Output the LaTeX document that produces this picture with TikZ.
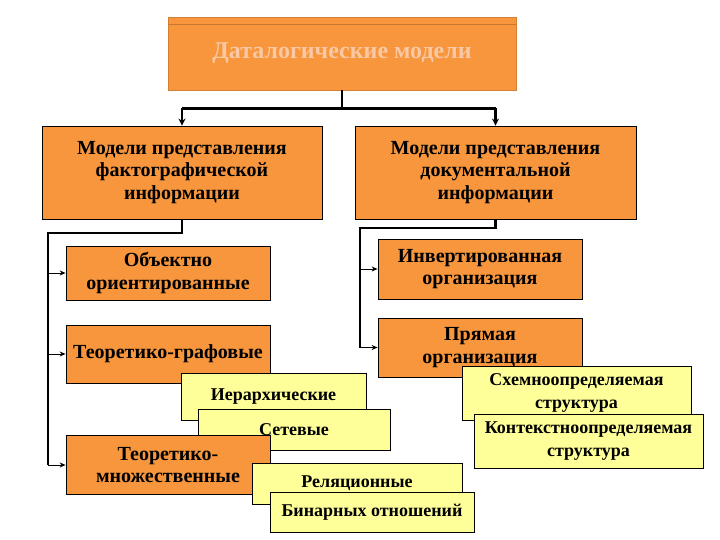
\documentclass[tikz,border=0pt]{standalone}
\usepackage{fontspec}
\setmainfont{Liberation Serif}
\usetikzlibrary{arrows.meta}
\definecolor{boxorange}{RGB}{247,150,60}
\definecolor{boxyellow}{RGB}{255,255,153}
\definecolor{titletext}{RGB}{250,200,165}
\tikzset{
  obox/.style={draw=black, fill=boxorange, line width=0.8pt, align=center,
    inner sep=0pt, font=\bfseries\fontsize{20}{22.5}\selectfont},
  ybox/.style={obox, fill=boxyellow, font=\bfseries\fontsize{18}{22.5}\selectfont},
  trunk/.style={line width=2.5pt},
  stub/.style={line width=1pt, -{Stealth[length=6pt,width=5pt]}},
}
\begin{document}
\begin{tikzpicture}[x=1pt,y=-1pt]
  \useasboundingbox (0,0) rectangle (720,540);
  % title
  \node[fill=boxorange, draw=boxorange!85!black, line width=0.6pt, minimum width=348, minimum height=73,
    text=titletext, font=\bfseries\fontsize{24}{28}\selectfont] (datal) at (342,53.5) {Даталогические модели};
  \draw[boxorange!80!black, line width=0.6pt] (168,24) -- (516,24);
  % first level
  \node[obox, minimum width=280, minimum height=93] (fakt) at (182,172.5)
    {Модели представления\\фактографической\\информации};
  \node[obox, minimum width=281, minimum height=93] (dok) at (495.5,172.5)
    {Модели представления\\документальной\\информации};
  \draw[trunk] (datal.south) -- ++(0,18) coordinate (split);
  \draw[trunk] (split -| fakt.north) -- (split -| dok.north);
  \draw[trunk, -{Stealth[length=7pt,width=7pt]}] (split -| fakt.north) -- (fakt.north);
  \draw[trunk, -{Stealth[length=7pt,width=7pt]}] (split -| dok.north) -- (dok.north);
  % left branch
  \node[obox, minimum width=204, minimum height=54] (obj) at (168,273)
    {Объектно\\ориентированные};
  \node[obox, minimum width=204, minimum height=58] (graf) at (168,354) {Теоретико-графовые};
  \node[ybox, minimum width=185, minimum height=47] (ier) at (273.5,396.5) {Иерархические};
  \node[ybox, minimum width=192, minimum height=41] (setev) at (294,429.5) {Сетевые};
  \node[obox, minimum width=204, minimum height=59] (mnozh) at (168,465)
    {Теоретико-\\множественные};
  \node[ybox, minimum width=210, minimum height=41] (rel) at (357,483.5) {Реляционные};
  \node[ybox, minimum width=204, minimum height=40] (bin) at (372,512) {Бинарных отношений};
  \coordinate (lrail) at (48,233);
  \draw[trunk] (fakt.south) |- (lrail) -- (lrail |- mnozh.west);
  \draw[stub] (lrail |- obj.west) -- (obj.west);
  \draw[stub] (lrail |- graf.west) -- (graf.west);
  \draw[stub] (lrail |- mnozh.west) -- (mnozh.west);
  % right branch
  \node[obox, minimum width=204, minimum height=60] (inv) at (480,269)
    {Инвертированная\\организация};
  \node[obox, minimum width=204, minimum height=59] (pryam) at (480,347.5)
    {Прямая\\организация};
  \node[ybox, minimum width=229, minimum height=54] (shem) at (576.5,393)
    {Схемноопределяемая\\структура};
  \node[ybox, minimum width=229, minimum height=54] (kont) at (588.5,441)
    {Контекстноопределяемая\\структура};
  \coordinate (rrail) at (360,228);
  \draw[trunk] (dok.south) |- (rrail) -- (rrail |- pryam.west);
  \draw[stub] (rrail |- inv.west) -- (inv.west);
  \draw[stub] (rrail |- pryam.west) -- (pryam.west);
\end{tikzpicture}
\end{document}
